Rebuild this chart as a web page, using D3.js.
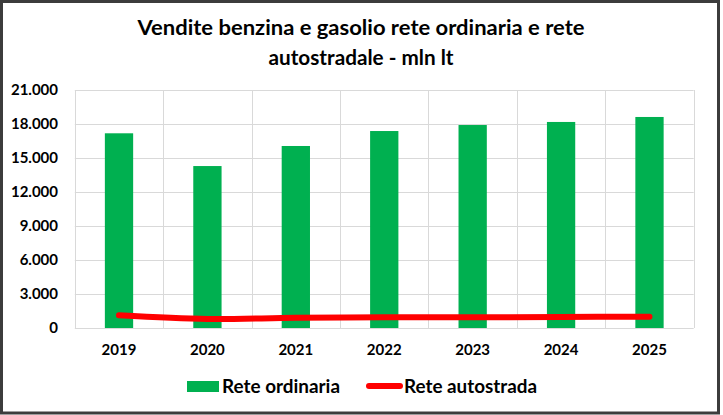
<!DOCTYPE html>
<html>
<head>
<meta charset="utf-8">
<script src="https://cdn.jsdelivr.net/npm/d3@7"></script>
<style>
  body { margin: 0; background: #fff; }
  text { font-family: Lato, "Liberation Sans", sans-serif; font-weight: bold; fill: #000; }
</style>
</head>
<body>
<div id="chart"></div>
<script>
var years = ["2019", "2020", "2021", "2022", "2023", "2024", "2025"];
var reteOrdinaria = [17180, 14290, 16060, 17380, 17910, 18180, 18620];
var reteAutostrada = [1120, 790, 910, 940, 940, 970, 1000];
var yTicks = [0, 3000, 6000, 9000, 12000, 15000, 18000, 21000];
var titleLines = ["Vendite benzina e gasolio rete ordinaria e rete", "autostradale - mln lt"];
var seriesNames = ["Rete ordinaria", "Rete autostrada"];

(function() {
  var width = 723,
      height = 415;

  var svg = d3.select("#chart")
    .append("svg")
    .attr("width", width)
    .attr("height", height)

  // chart frame
  svg.append("rect")
    .attr("x", 1.5).attr("y", 1.5)
    .attr("width", 717).attr("height", 411.5)
    .attr("fill", "#fff")
    .attr("stroke", "#3c3c3c")
    .attr("stroke-width", 3)

  // title
  svg.selectAll(".title")
    .data(titleLines)
    .enter().append("text")
    .attr("class", "title")
    .attr("x", 361)
    .attr("y", function(d, i) { return 35 + i * 30 })
    .attr("text-anchor", "middle")
    .attr("font-size", 21)
    .attr("textLength", function(d, i) { return i === 0 ? 447 : 185 })
    .attr("lengthAdjust", "spacingAndGlyphs")
    .text(function(d) { return d })

  var plot = { left: 74.8, right: 693.7, top: 90, bottom: 328 };

  var x = d3.scaleBand()
    .domain(years)
    .range([plot.left, plot.right])
    .padding(0)

  var y = d3.scaleLinear()
    .domain([0, 21000])
    .range([plot.bottom, plot.top])

  var fmt = function(v) { return d3.format(",")(v).replace(/,/g, ".") }

  // horizontal gridlines
  svg.selectAll(".hgrid")
    .data(yTicks)
    .enter().append("line")
    .attr("x1", plot.left).attr("x2", plot.right)
    .attr("y1", function(d) { return Math.round(y(d)) + 0.5 })
    .attr("y2", function(d) { return Math.round(y(d)) + 0.5 })
    .attr("stroke", "#d9d9d9")

  // vertical gridlines at category boundaries
  var bounds = years.map(function(d) { return x(d) }).concat([plot.right])
  svg.selectAll(".vgrid")
    .data(bounds)
    .enter().append("line")
    .attr("x1", function(d) { return Math.round(d) + 0.5 })
    .attr("x2", function(d) { return Math.round(d) + 0.5 })
    .attr("y1", plot.top).attr("y2", plot.bottom)
    .attr("stroke", "#d9d9d9")

  // y labels
  svg.selectAll(".ylab")
    .data(yTicks)
    .enter().append("text")
    .attr("x", 58)
    .attr("y", function(d) { return y(d) })
    .attr("dy", "0.36em")
    .attr("text-anchor", "end")
    .attr("font-size", 15)
    .text(fmt)

  // x labels
  svg.selectAll(".xlab")
    .data(years)
    .enter().append("text")
    .attr("x", function(d) { return x(d) + x.bandwidth() / 2 })
    .attr("y", 355)
    .attr("text-anchor", "middle")
    .attr("font-size", 15)
    .text(function(d) { return d })

  var barW = x.bandwidth() * 0.32

  svg.selectAll(".bar")
    .data(reteOrdinaria)
    .enter().append("rect")
    .attr("class", "bar")
    .attr("x", function(d, i) { return x(years[i]) + x.bandwidth() / 2 - barW / 2 })
    .attr("width", barW)
    .attr("y", function(d) { return y(d) })
    .attr("height", function(d) { return y(0) - y(d) })
    .attr("fill", "#00b050")

  var line = d3.line()
    .x(function(d, i) { return x(years[i]) + x.bandwidth() / 2 })
    .y(function(d) { return y(d) })
    .curve(d3.curveCatmullRom)

  svg.append("path")
    .datum(reteAutostrada)
    .attr("d", line)
    .attr("fill", "none")
    .attr("stroke", "#ff0000")
    .attr("stroke-width", 6)
    .attr("stroke-linecap", "round")
    .attr("stroke-linejoin", "round")

  // legend
  svg.append("rect")
    .attr("x", 187).attr("y", 381)
    .attr("width", 32).attr("height", 11)
    .attr("fill", "#00b050")
  svg.append("text")
    .attr("x", 222).attr("y", 393)
    .attr("font-size", 18)
    .attr("textLength", 118)
    .attr("lengthAdjust", "spacingAndGlyphs")
    .text(seriesNames[0])

  svg.append("line")
    .attr("x1", 369).attr("x2", 400)
    .attr("y1", 386).attr("y2", 386)
    .attr("stroke", "#ff0000")
    .attr("stroke-width", 6)
    .attr("stroke-linecap", "round")
  svg.append("text")
    .attr("x", 404).attr("y", 393)
    .attr("font-size", 18)
    .attr("textLength", 133)
    .attr("lengthAdjust", "spacingAndGlyphs")
    .text(seriesNames[1])
})();
</script>
</body>
</html>
